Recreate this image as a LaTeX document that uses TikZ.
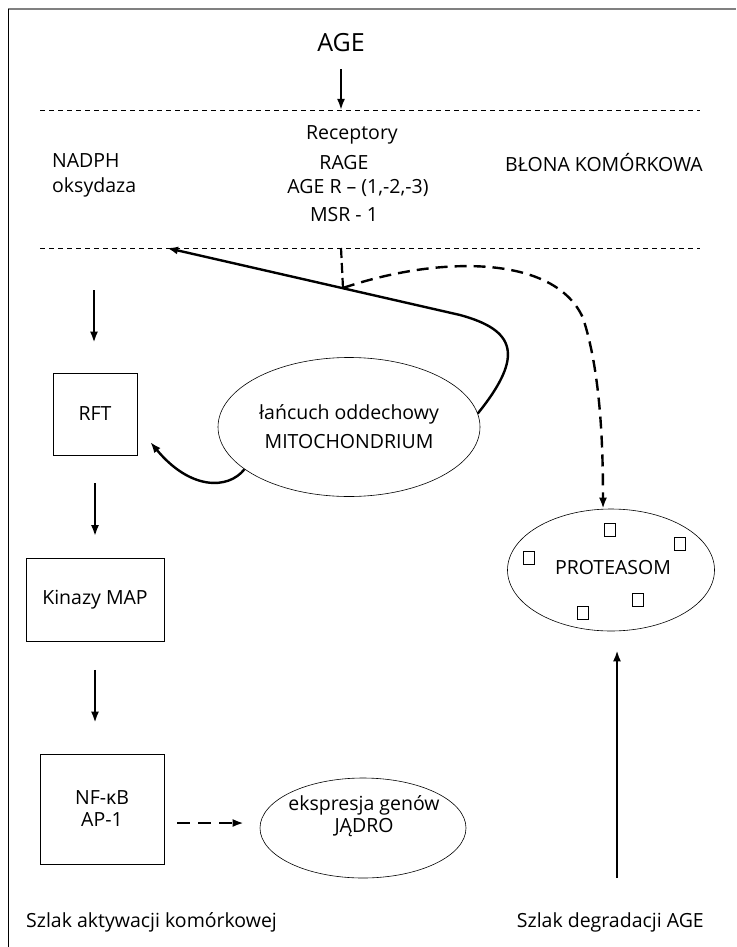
\documentclass[tikz,border=0pt]{standalone}
\usepackage{fontspec}
\setmainfont{Open Sans}
\usetikzlibrary{arrows.meta,shapes.geometric}

\tikzset{
  lbl/.style={inner sep=0pt},
  box/.style={draw, line width=0.6pt, align=center},
  oval/.style={draw, ellipse, line width=0.6pt, inner sep=0pt, align=center},
  arr/.style={line width=2.4pt, -{Latex[length=11pt,width=8pt]}},
  dasharr/.style={arr, dash pattern=on 12pt off 7pt},
  membrane/.style={line width=0.8pt, dash pattern=on 5pt off 4pt},
  sq/.style={draw, line width=0.6pt, minimum width=11pt, minimum height=13pt, inner sep=0pt}
}

\begin{document}
\begin{tikzpicture}[x=1pt, y=-1pt, font=\fontsize{19.5}{22}\selectfont]
\useasboundingbox (0,0) rectangle (736,947);
% frame
\draw[gray, line width=2pt] (8,9) -- (736,9);
\draw[line width=0.8pt] (8,9) -- (8,947);

% membrane
\node[lbl] (age) at (341,43) {\fontsize{25}{28}\selectfont AGE};
\coordinate (m1l) at (40,110);
\coordinate (m1r) at (700,110);
\coordinate (m2l) at (40,248);
\coordinate (m2r) at (700,248);
\draw[membrane] (m1l) -- (m1r);
\draw[membrane] (m2l) -- (m2r);
\draw[arr, shorten <=17pt] (age.south) -- (age |- m1l);

\node[lbl] (rec1) at (352,135) {Receptory};
\node[lbl] (rec2) at (344,163) {RAGE};
\node[lbl] (rec3) at (358,188) {AGE R -- (1,-2,-3)};
\node[lbl] (rec4) at (344,215) {MSR - 1};
\node[lbl, align=left, anchor=west, font=\fontsize{19.5}{24.5}\selectfont] (nadph) at (52,175.5) {NADPH\\oksydaza};
\node[lbl, anchor=west] (blona) at (505,163) {BŁONA KOMÓRKOWA};

% left column
\coordinate (nadphout) at (94,290);
\node[box, minimum width=84pt, minimum height=82pt] (rft) at (95,414) {RFT};
\node[box, minimum width=138pt, minimum height=83pt] (kinazy) at (95,600) {Kinazy MAP};
\node[box, minimum width=124pt, minimum height=110pt] (nfkb) at (102,809) {NF-κB\\AP-1};
\draw[arr, shorten >=30pt] (nadphout) -- (nadphout |- rft.north);
\draw[arr, shorten <=28pt, shorten >=22pt] (rft.south) -- (rft.south |- kinazy.north);
\draw[arr, shorten <=28pt, shorten >=31pt] (rft.south |- kinazy.south) -- (rft.south |- nfkb.north);

% mitochondrium
\node[oval, minimum width=262pt, minimum height=139pt, font=\fontsize{19.5}{29}\selectfont] (mito) at (349,427) {łańcuch oddechowy\\MITOCHONDRIUM};
\coordinate (ros) at (167,248);
\coordinate (rec) at (343,288);
\draw[arr] (mito.6) .. controls (525,355) and (515,330) .. (460,315) -- (ros);
\draw[arr] (mito.202) .. controls (228,490) and (190,490) .. ([xshift=13pt,yshift=-28pt]rft.east);

% nucleus
\node[oval, minimum width=206pt, minimum height=100pt] (jadro) at (363,828) {};
\node[lbl, align=center] (jadrotxt) at (364,816) {ekspresja genów\\JĄDRO};
\draw[dasharr, dash pattern=on 13pt off 8pt] ([xshift=13pt]nfkb.east |- 0,823) -- ([xshift=-16pt]jadro.west |- 0,823);

% proteasome
\node[oval, minimum width=207pt, minimum height=122pt] (proteasom) at (611,570) {};
\node[lbl] (proteasomtxt) at (613,568) {PROTEASOM};
\foreach \sx/\sy in {610/530, 680/544, 529/558, 638/600, 583/613}
  \node[sq] at (\sx,\sy) {};
\draw[line width=2.2pt, dash pattern=on 10pt off 5pt] (age |- m2l) -- (rec);
\draw[dasharr, line width=2.4pt] (rec) .. controls (440,255) and (555,255) .. (583,318) .. controls (600,370) and (603,440) .. ([xshift=-8pt]proteasom.north);
\coordinate (degstart) at (617,878);
\draw[arr, shorten >=19pt] (degstart) -- (degstart |- proteasom.south);

% pathways
\node[lbl, anchor=west] (akt) at (26,922) {Szlak aktywacji komórkowej};
\node[lbl, anchor=east] (deg) at (704,922) {Szlak degradacji AGE};
\end{tikzpicture}
\end{document}
